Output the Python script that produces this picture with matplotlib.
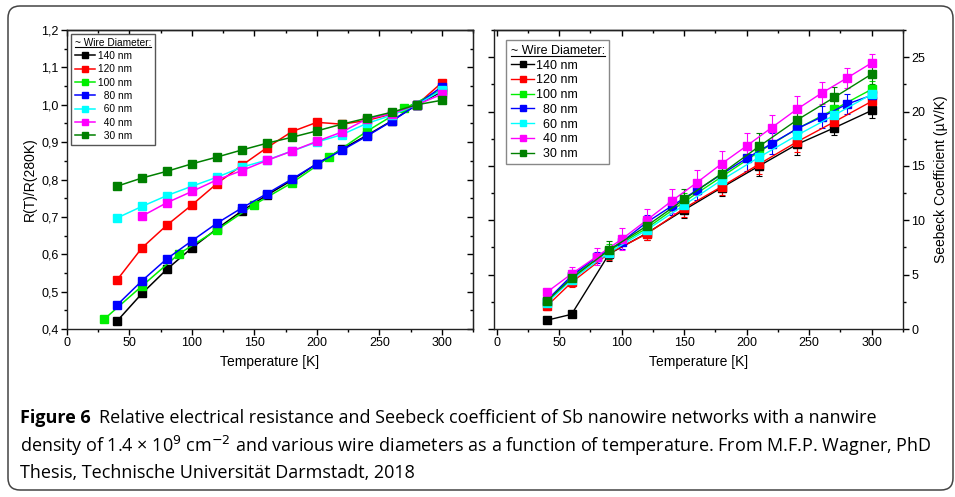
import numpy as np
import matplotlib
matplotlib.use('Agg')
import matplotlib.pyplot as plt
from matplotlib.ticker import FuncFormatter, MultipleLocator
from matplotlib.patches import FancyBboxPatch
from matplotlib.lines import Line2D
from matplotlib.transforms import IdentityTransform

plt.rcParams['font.family'] = ['Liberation Sans', 'DejaVu Sans']

# 범례 라벨 / 색상
labels = ['140 nm', '120 nm', '100 nm', '  80 nm', '  60 nm', '  40 nm', '  30 nm']
colors = ['#000000', '#ff0000', '#00ee00', '#0000ff', '#00ffff', '#ff00ff', '#008000']

# 왼쪽: R(T)/R(280K)
T_140 = [40, 60, 80, 100, 120, 140, 160, 180, 200, 220, 240, 260, 280, 300]
R_140 = [0.421, 0.495, 0.560, 0.617, 0.668, 0.716, 0.758, 0.798, 0.842, 0.881, 0.918, 0.957, 1.0, 1.035]
T_120 = [40, 60, 80, 100, 120, 140, 160, 180, 200, 220, 240, 260, 280, 300]
R_120 = [0.531, 0.617, 0.678, 0.732, 0.789, 0.838, 0.885, 0.928, 0.953, 0.948, 0.958, 0.975, 1.0, 1.059]
T_100 = [30, 60, 90, 120, 150, 180, 210, 240, 270, 300]
R_100 = [0.427, 0.515, 0.602, 0.665, 0.733, 0.791, 0.860, 0.929, 0.990, 1.040]
T_80 = [40, 60, 80, 100, 120, 140, 160, 180, 200, 220, 240, 260, 280, 300]
R_80 = [0.464, 0.529, 0.588, 0.636, 0.683, 0.724, 0.762, 0.801, 0.842, 0.878, 0.916, 0.956, 1.0, 1.048]
T_60 = [40, 60, 80, 100, 120, 140, 160, 180, 200, 220, 240, 260, 280, 300]
R_60 = [0.697, 0.728, 0.757, 0.782, 0.806, 0.833, 0.852, 0.876, 0.900, 0.920, 0.950, 0.972, 1.0, 1.039]
T_40 = [60, 80, 100, 120, 140, 160, 180, 200, 220, 240, 260, 280, 300]
R_40 = [0.702, 0.738, 0.768, 0.799, 0.824, 0.851, 0.876, 0.902, 0.927, 0.962, 0.976, 1.0, 1.028]
T_30 = [40, 60, 80, 100, 120, 140, 160, 180, 200, 220, 240, 260, 280, 300]
R_30 = [0.782, 0.804, 0.822, 0.842, 0.860, 0.879, 0.897, 0.913, 0.930, 0.948, 0.964, 0.980, 1.0, 1.012]

# 오른쪽: Seebeck 계수 (µV/K)
ST_a = [40, 60, 90, 120, 150, 180, 210, 240, 270, 300]
S_140 = [0.8, 1.35, 6.9, 8.8, 10.95, 13.0, 15.0, 16.97, 18.5, 20.1]
E_140 = [0.2, 0.2, 0.6, 0.6, 0.7, 0.8, 0.9, 1.0, 0.7, 0.7]
S_120 = [2.08, 4.28, 6.97, 8.74, 11.1, 13.1, 15.17, 17.2, 19.05, 20.94]
E_120 = [0.3, 0.4, 0.6, 0.6, 0.8, 0.8, 0.9, 0.9, 0.8, 0.7]
S_100 = [2.45, 4.83, 7.2, 9.26, 11.7, 14.0, 16.3, 18.4, 20.2, 22.05]
E_100 = [0.3, 0.5, 0.6, 0.7, 0.8, 0.9, 0.9, 1.0, 0.9, 0.8]
ST_80 = [40, 60, 80, 100, 120, 140, 160, 200, 220, 240, 260, 280, 300]
S_80 = [2.6, 4.9, 6.6, 8.0, 9.8, 11.3, 12.75, 15.7, 17.06, 18.4, 19.5, 20.67, 21.5]
E_80 = [0.3, 0.5, 0.5, 0.6, 0.7, 0.8, 0.9, 1.2, 1.0, 1.0, 1.0, 0.9, 0.8]
S_60 = [2.38, 4.52, 7.03, 9.1, 11.4, 13.7, 15.8, 17.8, 19.66, 21.6]
E_60 = [0.3, 0.5, 0.6, 0.7, 0.8, 0.9, 0.9, 0.9, 0.9, 0.8]
ST_40 = [40, 60, 80, 100, 120, 140, 160, 180, 200, 220, 240, 260, 280, 300]
S_40 = [3.36, 5.07, 6.66, 8.25, 10.0, 11.77, 13.45, 15.2, 16.84, 18.52, 20.2, 21.7, 23.07, 24.48]
E_40 = [0.3, 0.6, 0.76, 1.0, 1.0, 1.07, 1.16, 1.2, 1.2, 1.2, 1.2, 1.0, 0.92, 0.83]
S_30 = [2.54, 4.65, 7.27, 9.47, 11.92, 14.3, 16.8, 19.2, 21.3, 23.45]
E_30 = [0.3, 0.5, 0.8, 0.8, 1.0, 1.0, 1.2, 1.1, 1.0, 0.9]

left_series = [(T_140, R_140), (T_120, R_120), (T_100, R_100), (T_80, R_80),
               (T_60, R_60), (T_40, R_40), (T_30, R_30)]
right_series = [(ST_a, S_140, E_140), (ST_a, S_120, E_120), (ST_a, S_100, E_100),
                (ST_80, S_80, E_80), (ST_a, S_60, E_60), (ST_40, S_40, E_40),
                (ST_a, S_30, E_30)]

fig = plt.figure(figsize=(9.55, 4.97), dpi=100)
W, H = 955, 497
ax1 = fig.add_axes([67 / W, 1 - 329 / H, 406 / W, 299 / H])
ax2 = fig.add_axes([494 / W, 1 - 329 / H, 409 / W, 299 / H])

for (t, r), c, lab in zip(left_series, colors, labels):
    ax1.plot(t, r, '-s', color=c, lw=1.1, ms=5.5, mec=c, label=lab)

handles2 = []
for (t, s, e), c, lab in zip(right_series, colors, labels):
    ax2.errorbar(t, s, yerr=e, fmt='-s', color=c, lw=1.0, ms=6, mec=c,
                 elinewidth=0.8, capsize=2.5, capthick=0.8)
    handles2.append(Line2D([], [], color=c, lw=1.0, marker='s', ms=5, mec=c, label=lab))


def comma(v, pos):
    return f'{v:.1f}'.replace('.', ',')


for ax in (ax1, ax2):
    for sp in ax.spines.values():
        sp.set_linewidth(1.0)
        sp.set_color('#222222')
    ax.xaxis.set_major_locator(MultipleLocator(50))
    ax.xaxis.set_minor_locator(MultipleLocator(25))
    ax.tick_params(axis='both', which='major', direction='out', length=4, width=1,
                   labelsize=9, pad=2)
    ax.tick_params(axis='both', which='minor', direction='out', length=2.5, width=1)
    ax.set_xlabel('Temperature [K]', fontsize=10, labelpad=4)
    top = ax.secondary_xaxis('top')
    top.xaxis.set_major_locator(MultipleLocator(50))
    top.xaxis.set_minor_locator(MultipleLocator(25))
    top.tick_params(which='major', direction='in', length=4, width=1, labeltop=False)
    top.tick_params(which='minor', direction='in', length=2.5, width=1)
    top.spines['top'].set_linewidth(1.0)

ax1.set_xlim(0, 325)
ax1.set_ylim(0.4, 1.2)
ax1.yaxis.set_major_locator(MultipleLocator(0.1))
ax1.yaxis.set_minor_locator(MultipleLocator(0.05))
ax1.yaxis.set_major_formatter(FuncFormatter(comma))
ax1.set_ylabel('R(T)/R(280K)', fontsize=10, labelpad=3)
rt = ax1.secondary_yaxis('right')
rt.yaxis.set_major_locator(MultipleLocator(0.1))
rt.yaxis.set_minor_locator(MultipleLocator(0.05))
rt.tick_params(which='major', direction='in', length=4, width=1, labelright=False)
rt.tick_params(which='minor', direction='in', length=2.5, width=1)

ax2.set_xlim(-2, 325)
ax2.set_ylim(0, 27.5)
ax2.yaxis.set_major_locator(MultipleLocator(5))
ax2.yaxis.set_minor_locator(MultipleLocator(2.5))
ax2.yaxis.tick_right()
ax2.tick_params(axis='y', which='both', left=True, right=True, labelleft=False, labelright=True)
ax2.yaxis.set_label_position('right')
ax2.set_ylabel('Seebeck Coefficient (µV/K)', fontsize=10, labelpad=6)

leg1 = ax1.legend(title='~ Wire Diameter:', loc='upper left', fontsize=7.3, title_fontsize=7.3,
                  numpoints=1, handlelength=2.0, handletextpad=0.3, labelspacing=0.33,
                  borderpad=0.35, borderaxespad=0.4, fancybox=False, edgecolor='#555555',
                  framealpha=1)
leg2 = ax2.legend(handles=handles2, title='~ Wire Diameter:', loc='upper left',
                  fontsize=9, title_fontsize=9, numpoints=1, handlelength=1.9,
                  handletextpad=0.1, labelspacing=0.22, borderpad=0.35,
                  bbox_to_anchor=(0.03, 0.965), borderaxespad=0,
                  fancybox=False, edgecolor='#888888', framealpha=1)
for leg in (leg1, leg2):
    leg.get_frame().set_linewidth(1.0)
    leg._legend_box.align = 'left'
    for h in leg.legend_handles:
        if hasattr(h, 'set_markersize'):
            h.set_markersize(4.5)

# 범례 제목 밑줄
fig.canvas.draw()
inv = fig.transFigure.inverted()
for leg in (leg1, leg2):
    bb = leg.get_title().get_window_extent()
    (x0, y0), (x1, _) = inv.transform([[bb.x0, bb.y0], [bb.x1, bb.y1]])
    fig.add_artist(Line2D([x0, x1], [y0 + 0.002, y0 + 0.002], transform=fig.transFigure,
                          color='black', lw=0.8))

# 외곽 둥근 테두리
fig.add_artist(FancyBboxPatch((8, 7), 945, 484, boxstyle='round,pad=0,rounding_size=12',
                              transform=IdentityTransform(), fill=False,
                              edgecolor='#444444', lw=1.1))

# 캡션
cap_font = ['Open Sans', 'DejaVu Sans']
cap_size = 13.0
fig6 = fig.text(20 / W, 1 - 418 / H, 'Figure 6', fontsize=cap_size, fontweight='bold',
                family=cap_font, va='center', ha='left')
fig.canvas.draw()
x_after = inv.transform([[fig6.get_window_extent().x1, 0]])[0][0] + 8 / W
fig.text(x_after, 1 - 418 / H,
         'Relative electrical resistance and Seebeck coefficient of Sb nanowire networks with a nanwire',
         fontsize=cap_size, family=cap_font, va='center', ha='left')
fig.text(20 / W, 1 - 446 / H,
         r'density of 1.4 × 10$^{9}$ cm$^{-2}$ and various wire diameters as a function of temperature. '
         'From M.F.P. Wagner, PhD',
         fontsize=cap_size, family=cap_font, va='center', ha='left')
fig.text(20 / W, 1 - 473 / H, 'Thesis, Technische Universität Darmstadt, 2018',
         fontsize=cap_size, family=cap_font, va='center', ha='left')

fig.savefig('out.png', dpi=100)
